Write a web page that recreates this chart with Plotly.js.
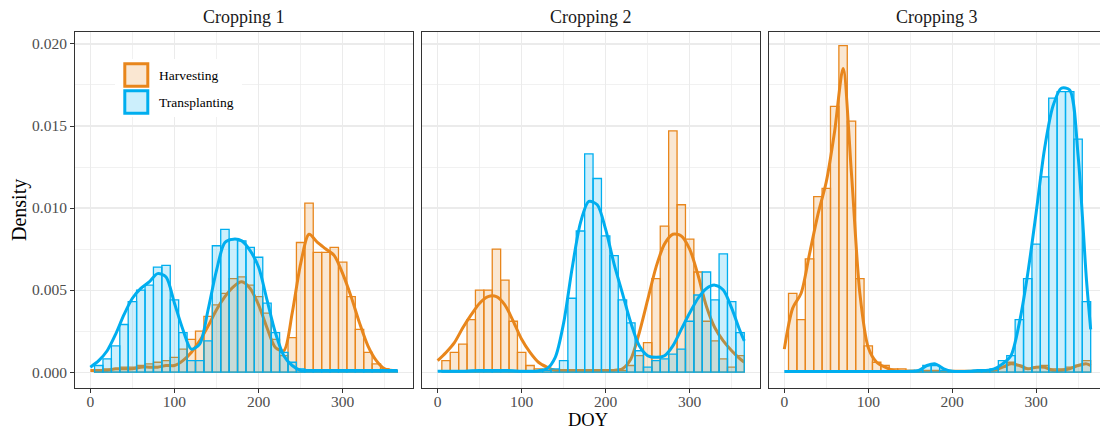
<!DOCTYPE html>
<html><head><meta charset="utf-8">
<script src="https://cdn.plot.ly/plotly-3.0.1.min.js"></script>
<style>html,body{margin:0;padding:0;overflow:hidden;background:#fff}#chart{width:1110px;height:432px}</style>
</head><body><div id="chart"></div>
<script>
// ---------- data ----------
const panels = ["Cropping 1", "Cropping 2", "Cropping 3"];
const seriesNames = ["Harvesting", "Transplanting"];
const binDOY = [10,20,30,40,50,60,70,80,90,100,110,120,130,140,150,160,170,180,190,200,210,220,230,240,250,260,270,280,290,300,310,320,330,340,350,360];
const curveDOY = [0,10,20,30,40,50,60,70,80,90,100,110,120,130,140,150,160,170,180,190,200,210,220,230,240,250,260,270,280,290,300,310,320,330,340,350,360,365];
const xTickVals = [0,100,200,300];
const xMinorVals = [50,150,250,350];
const yTickVals = [0,0.005,0.010,0.015,0.020];
const yTickText = ["0.000","0.005","0.010","0.015","0.020"];
const yMinorVals = [0.0025,0.0075,0.0125,0.0175];

// Histogram densities (bin width 10 days)
const harvestBars1 = [0.0001,0.0002,0.0002,0.0003,0.0003,0.0004,0.0005,0.0006,0.0007,0.0009,
  0.0014,0.0020,0.0025,0.0034,0.0041,0.0048,0.0057,0.0058,0.0053,0.0046,
  0.0036,0.0020,0.0010,0.0021,0.0079,0.0103,0.0073,0.0073,0.0076,0.0067,
  0.0046,0.0026,0.0012,0.0005,0.0002,0.0001];
const transBars1 = [0.0004,0.0008,0.0016,0.0029,0.0043,0.0050,0.0053,0.0064,0.0065,0.0044,
  0.0024,0.0007,0.0007,0.0019,0.0077,0.0087,0.0081,0.0080,0.0076,0.0070,
  0.0042,0.0024,0.0012,0.0006,0.0002,0.0001,0.0001,0.0001,0.0001,0.0001,
  0.0001,0.0001,0.0001,0.0001,0.0001,0.0001];
const harvestBars2 = [0.0007,0.0012,0.0017,0.0032,0.0050,0.0050,0.0075,0.0056,0.0031,0.0012,
  0.0004,0.0002,0.0001,0,0,0,0,0,0,0,
  0,0.0001,0.0004,0.0010,0.0018,0.0057,0.0089,0.0147,0.0102,0.0081,
  0.0061,0.0031,0.0019,0.0008,0.0003,0.0010];
const transBars2 = [0,0,0,0,0,0.0001,0.0001,0,0,0,
  0,0,0.0001,0.0002,0.0007,0.0045,0.0086,0.0133,0.0118,0.0083,
  0.0071,0.0044,0.0030,0.0013,0.0003,0.0007,0.0008,0.0011,0.0014,0.0031,
  0.0047,0.0061,0.0044,0.0072,0.0043,0.0024];
const harvestBars3 = [0.0048,0.0032,0.0069,0.0107,0.0112,0.0162,0.0199,0.0153,0.0057,0.0016,
  0.0006,0.0004,0.0002,0.0002,0.0001,0,0,0,0,0,
  0,0,0,0.0001,0.0001,0.0003,0.0006,0.0004,0.0002,0.0003,
  0.0004,0.0002,0.0002,0.0003,0.0004,0.0007];
const transBars3 = [0,0,0,0,0,0,0,0,0,0,
  0,0,0,0,0,0.0001,0.0004,0.0004,0.0001,0,
  0,0,0.0001,0.0001,0.0002,0.0007,0.0010,0.0032,0.0057,0.0078,
  0.0119,0.0167,0.0171,0.0171,0.0142,0.0043];

// Density curves
const harvestCurve1 = [0.0001,0.0001,0.0001,0.0002,0.0002,0.0002,0.0003,0.0003,0.0003,0.0004,
  0.0004,0.0007,0.0012,0.0019,0.0028,0.0038,0.0046,0.0052,0.0055,0.0051,
  0.0041,0.0027,0.0015,0.0013,0.0036,0.0066,0.0084,0.0079,0.0075,0.0071,
  0.0060,0.0046,0.0030,0.0016,0.0007,0.0002,0.0001,0.0001];
const transCurve1 = [0.0003,0.0007,0.0013,0.0023,0.0035,0.0045,0.0051,0.0055,0.0060,0.0058,
  0.0042,0.0026,0.0014,0.0017,0.0038,0.0062,0.0079,0.0081,0.0080,0.0074,
  0.0064,0.0044,0.0024,0.0010,0.0004,0.0001,0.0001,0.0001,0.0001,0.0001,
  0.0001,0.0001,0.0001,0.0001,0.0001,0.0001,0.0001,0.0001];
const harvestCurve2 = [0.0007,0.0012,0.0018,0.0027,0.0035,0.0042,0.0046,0.0046,0.0041,0.0031,
  0.0020,0.0012,0.0006,0.0003,0.0001,0.0001,0.0001,0.0001,0.0001,0.0001,
  0.0001,0.0001,0.0002,0.0008,0.0024,0.0044,0.0064,0.0078,0.0084,0.0083,
  0.0075,0.0059,0.0040,0.0027,0.0019,0.0013,0.0008,0.0006];
const transCurve2 = [0.00005,0.00005,0.00005,0.00005,0.00008,0.0001,0.0001,0.0001,0.0001,0.00008,
  0.00005,0.00005,0.00008,0.0002,0.0009,0.0030,0.0063,0.0091,0.0104,0.0102,
  0.0087,0.0066,0.0048,0.0030,0.0016,0.0010,0.0009,0.0010,0.0016,0.0026,
  0.0036,0.0045,0.0051,0.0053,0.0050,0.0039,0.0025,0.0019];
const harvestCurve3 = [0.0014,0.0039,0.0048,0.0072,0.0096,0.0116,0.0147,0.0185,0.0121,0.0048,
  0.0015,0.0006,0.0003,0.0001,0.00005,0.00005,0.00005,0.00005,0.00005,0.00005,
  0.00005,0.00005,0.00005,0.00005,0.00005,0.0001,0.0003,0.0005,0.0004,0.0002,
  0.0003,0.0003,0.0001,0.0001,0.0002,0.0004,0.0005,0.0004];
const transCurve3 = [0.00003,0.00003,0.00003,0.00003,0.00003,0.00003,0.00003,0.00003,0.00003,0.00003,
  0.00003,0.00003,0.00003,0.00003,0.00003,0.00005,0.0001,0.0004,0.0005,0.0002,
  0.00005,0.00003,0.00005,0.0001,0.0001,0.0002,0.0005,0.0010,0.0030,0.0060,
  0.0097,0.0136,0.0162,0.0173,0.0172,0.0132,0.0056,0.0026];

// ---------- styling ----------
const ORANGE = "#E8861C", ORANGE_FILL = "rgba(232,134,28,0.2)";
const BLUE = "#00AEEF", BLUE_FILL = "rgba(0,174,239,0.2)";
const FONT = "Liberation Serif, Times New Roman, serif";
const GRID = "#EBEBEB";
const XR = [-18.25, 383.25], YR = [-0.00097, 0.02073];

const W = 1110, H = 432, ML = 75, MR = 4, MT = 32, MB = 44;
const PW = W - ML - MR, PH = H - MT - MB;
const px = v => (v - ML) / PW;          // pixel -> paper x
const py = v => (H - MB - v) / PH;      // pixel -> paper y

const domains = [[0, px(412.7)], [px(422.3), px(759.6)], [px(769), 1]];

const harvestBars = [harvestBars1, harvestBars2, harvestBars3];
const transBars = [transBars1, transBars2, transBars3];
const harvestCurves = [harvestCurve1, harvestCurve2, harvestCurve3];
const transCurves = [transCurve1, transCurve2, transCurve3];

const traces = [];
const layout = {
  width: W, height: H,
  margin: {l: ML, r: MR, t: MT, b: MB},
  paper_bgcolor: "#fff", plot_bgcolor: "#fff",
  barmode: "overlay", showlegend: false, hovermode: false,
  font: {family: FONT, color: "#1a1a1a"},
  annotations: [], shapes: []
};

for (let i = 0; i < 3; i++) {
  const n = i + 1;
  const xa = n === 1 ? "x" : "x" + n;
  const ya = n === 1 ? "y" : "y" + n;
  const yo = "y" + (n + 3);
  layout["xaxis" + (n === 1 ? "" : n)] = {
    domain: domains[i], anchor: ya, range: XR, fixedrange: true,
    tickmode: "array", tickvals: xTickVals,
    ticks: "outside", ticklen: 4, tickwidth: 1, tickcolor: "#333", ticklabelstandoff: -5,
    tickfont: {family: FONT, size: 15.5, color: "#4d4d4d"},
    showline: true, mirror: true, linecolor: "#333", linewidth: 1,
    showgrid: true, gridcolor: GRID, gridwidth: 1.1, zeroline: false,
    minor: {tickmode: "array", tickvals: xMinorVals, showgrid: true, gridcolor: GRID, gridwidth: 0.7, ticks: ""}
  };
  layout["yaxis" + (n === 1 ? "" : n)] = {
    domain: [0, 1], anchor: xa, range: YR, fixedrange: true,
    tickmode: "array", tickvals: yTickVals, ticktext: yTickText,
    showticklabels: n === 1, ticks: n === 1 ? "outside" : "", ticklen: 4, tickwidth: 1, tickcolor: "#333",
    tickfont: {family: FONT, size: 15.5, color: "#4d4d4d"},
    showline: true, mirror: true, linecolor: "#333", linewidth: 1,
    showgrid: true, gridcolor: GRID, gridwidth: 1.1, zeroline: false,
    minor: {tickmode: "array", tickvals: yMinorVals, showgrid: true, gridcolor: GRID, gridwidth: 0.7, ticks: ""}
  };
  layout["yaxis" + (n + 3)] = {overlaying: ya, anchor: xa, range: YR, visible: false, fixedrange: true};

  traces.push({type: "bar", name: seriesNames[0], x: binDOY, y: harvestBars[i], width: 10,
    xaxis: xa, yaxis: ya, marker: {color: ORANGE_FILL, line: {color: ORANGE, width: 1.3}}, hoverinfo: "skip"});
  traces.push({type: "scatter", mode: "lines", name: seriesNames[0], x: curveDOY, y: harvestCurves[i],
    xaxis: xa, yaxis: ya, line: {color: ORANGE, width: 3, shape: "spline", smoothing: 0.8}, hoverinfo: "skip"});
  traces.push({type: "bar", name: seriesNames[1], x: binDOY, y: transBars[i], width: 10,
    xaxis: xa, yaxis: yo, marker: {color: BLUE_FILL, line: {color: BLUE, width: 1.3}}, hoverinfo: "skip"});
  traces.push({type: "scatter", mode: "lines", name: seriesNames[1], x: curveDOY, y: transCurves[i],
    xaxis: xa, yaxis: yo, line: {color: BLUE, width: 3, shape: "spline", smoothing: 0.8}, hoverinfo: "skip"});

  // strip title
  layout.annotations.push({text: panels[i], xref: "paper", yref: "paper",
    x: (domains[i][0] + domains[i][1]) / 2, y: py(17), xanchor: "center", yanchor: "middle",
    showarrow: false, font: {family: FONT, size: 18, color: "#1a1a1a"}});
}

// axis titles
layout.annotations.push({text: "DOY", xref: "paper", yref: "paper", x: px(588), y: py(419.5),
  xanchor: "center", yanchor: "middle", borderpad: 0, showarrow: false, font: {family: FONT, size: 18.5, color: "#000"}});
layout.annotations.push({text: "Density", xref: "paper", yref: "paper", x: px(19), y: py(210),
  xanchor: "center", yanchor: "middle", textangle: -90, showarrow: false, font: {family: FONT, size: 20, color: "#000"}});

// legend (drawn inside panel 1)
layout.shapes.push({type: "rect", xref: "paper", yref: "paper", x0: px(115), x1: px(242), y0: py(59), y1: py(117),
  fillcolor: "#fff", line: {width: 0}, layer: "above"});
layout.shapes.push({type: "rect", xref: "paper", yref: "paper", x0: px(124.8), x1: px(147.8), y0: py(63.8), y1: py(86.2),
  fillcolor: ORANGE_FILL, line: {color: ORANGE, width: 3}, layer: "above"});
layout.shapes.push({type: "rect", xref: "paper", yref: "paper", x0: px(124.8), x1: px(147.8), y0: py(90.8), y1: py(113.3),
  fillcolor: BLUE_FILL, line: {color: BLUE, width: 3}, layer: "above"});
layout.annotations.push({text: seriesNames[0], xref: "paper", yref: "paper", x: px(156.5), y: py(75.5),
  xanchor: "left", yanchor: "middle", showarrow: false, font: {family: FONT, size: 13.5, color: "#000"}});
layout.annotations.push({text: seriesNames[1], xref: "paper", yref: "paper", x: px(156.5), y: py(102),
  xanchor: "left", yanchor: "middle", showarrow: false, font: {family: FONT, size: 13.5, color: "#000"}});

Plotly.newPlot("chart", traces, layout, {staticPlot: true, displayModeBar: false});
</script></body></html>
